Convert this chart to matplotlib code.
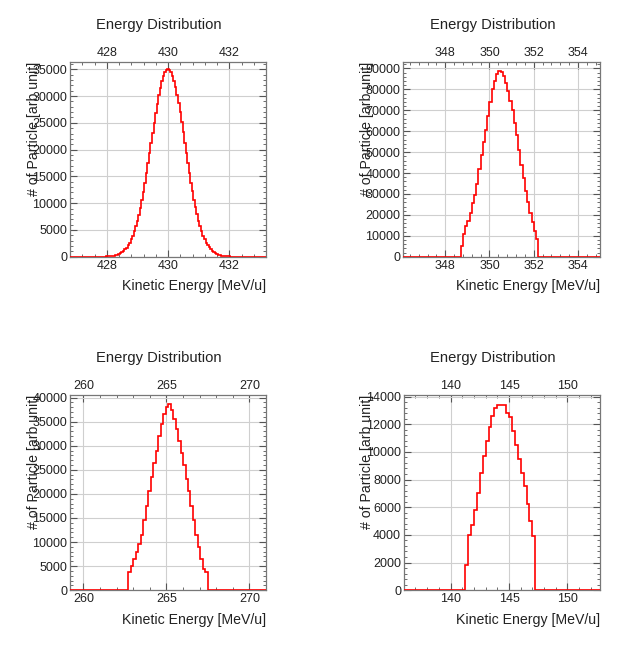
"""Four ROOT-style energy distribution histograms (2x2)."""

import matplotlib

matplotlib.use("Agg")
import matplotlib.pyplot as plt
from matplotlib.ticker import AutoMinorLocator, MultipleLocator

plt.rcParams["font.family"] = ["Liberation Sans", "DejaVu Sans"]

TITLE = "Energy Distribution"
XLABEL = "Kinetic Energy [MeV/u]"
YLABEL = "# of Particle [arb unit]"

# panel 1: 430 MeV/u beam
E1_START, E1_WIDTH = 427.975, 0.05
E1_COUNTS = [
    50, 65, 90, 120, 160, 220, 290, 390, 510, 660,
    850, 1080, 1370, 1720, 2140, 2650, 3240, 3930, 4740, 5660,
    6700, 7880, 9180, 10600, 12150, 13810, 15570, 17410, 19310, 21230,
    23150, 25040, 26870, 28580, 30160, 31560, 32760, 33720, 34430, 34860,
    35000,
    34850, 34400, 33700, 32750, 31600, 30200, 28650, 26950, 25100, 23200,
    21300, 19400, 17450, 15600, 13850, 12200, 10650, 9200, 7900, 6700,
    5650, 4750, 3950, 3250, 2650, 2150, 1730, 1380, 1090, 860,
    670, 510, 390, 290, 220, 160, 120, 90, 65, 50,
]
E1_XLIM = (426.8, 433.2)
E1_YLIM = (0, 36400)
E1_XMAJOR, E1_YMAJOR = 2, 5000

# panel 2: 350 MeV/u beam
E2_START, E2_WIDTH = 348.7, 0.1
E2_COUNTS = [
    5000, 11000, 14500, 17000, 21000, 25500, 29500, 35000, 42000, 48500,
    55000, 60500, 67500, 74000, 80000, 84000, 87500, 89000, 88500, 86500,
    83000, 79000, 74500, 70000, 64000, 58000, 51000, 44000, 37500, 31500,
    26000, 21000, 16500, 12500, 8500,
]
E2_XLIM = (346.1, 355.0)
E2_YLIM = (0, 93200)
E2_XMAJOR, E2_YMAJOR = 2, 10000

# panel 3: 265 MeV/u beam
E3_START, E3_WIDTH = 262.7, 0.15
E3_COUNTS = [
    3800, 5000, 6500, 8000, 9500, 11500, 14500, 17500, 20500, 23500,
    26500, 29000, 32000, 34500, 36500, 38000, 38700, 37500, 35500, 33500,
    31000, 28500, 26000, 23000, 20500, 17500, 14500, 11500, 9000, 6500,
    4500, 3800,
]
E3_XLIM = (259.2, 271.0)
E3_YLIM = (0, 40500)
E3_XMAJOR, E3_YMAJOR = 5, 5000

# panel 4: 145 MeV/u beam
E4_START, E4_WIDTH = 141.25, 0.25
E4_COUNTS = [
    1800, 4000, 4700, 5800, 7000, 8500, 9700, 10800, 11800, 12600,
    13200, 13400, 13400, 13400, 12800, 12500, 11500, 10500, 9500, 8500,
    7500, 6200, 5000, 3900,
]
E4_XLIM = (136.0, 152.8)
E4_YLIM = (0, 14100)
E4_XMAJOR, E4_YMAJOR = 5, 2000

PANELS = [
    (E1_START, E1_WIDTH, E1_COUNTS, E1_XLIM, E1_YLIM, E1_XMAJOR, E1_YMAJOR),
    (E2_START, E2_WIDTH, E2_COUNTS, E2_XLIM, E2_YLIM, E2_XMAJOR, E2_YMAJOR),
    (E3_START, E3_WIDTH, E3_COUNTS, E3_XLIM, E3_YLIM, E3_XMAJOR, E3_YMAJOR),
    (E4_START, E4_WIDTH, E4_COUNTS, E4_XLIM, E4_YLIM, E4_XMAJOR, E4_YMAJOR),
]

# axes rectangles in figure fractions (left, bottom, width, height)
AX_RECTS = [
    (0.109, 0.605, 0.304, 0.300),
    (0.626, 0.605, 0.306, 0.300),
    (0.109, 0.092, 0.304, 0.300),
    (0.627, 0.092, 0.305, 0.300),
]

TEXT_COLOR = "#222222"


def draw_panel(ax, start, width, counts, xlim, ylim, xmajor, ymajor):
    edges = [start + i * width for i in range(len(counts) + 1)]
    # pad with empty bins out to the frame, like a ROOT histogram
    edges = [xlim[0]] + edges + [xlim[1]]
    values = [0] + list(counts) + [0]
    ax.stairs(values, edges, color="red", lw=1.2, baseline=None, zorder=3)

    ax.set_xlim(*xlim)
    ax.set_ylim(*ylim)
    ax.xaxis.set_major_locator(MultipleLocator(xmajor))
    ax.yaxis.set_major_locator(MultipleLocator(ymajor))
    ax.xaxis.set_minor_locator(AutoMinorLocator(5))
    ax.yaxis.set_minor_locator(AutoMinorLocator(5))
    ax.grid(which="major", color="#cfcfcf", lw=0.8, zorder=0)

    ax.tick_params(which="both", direction="in", top=True, right=True,
                   labeltop=True, colors="#555555", labelcolor=TEXT_COLOR,
                   labelsize=9, pad=2)
    ax.tick_params(which="major", length=5)
    ax.tick_params(which="minor", length=2.5)
    for sp in ax.spines.values():
        sp.set_color("#777777")
        sp.set_linewidth(0.9)

    ax.set_xlabel(XLABEL, loc="right", fontsize=10.2, color=TEXT_COLOR)
    ax.xaxis.set_label_coords(1.0, -0.115)
    ax.set_ylabel(YLABEL, loc="top", fontsize=10.2, color=TEXT_COLOR)
    ax.yaxis.set_label_coords(-0.15, 1.0)
    ax.text(0.455, 1.19, TITLE, transform=ax.transAxes, ha="center",
            va="center", fontsize=10.6, color=TEXT_COLOR)


fig = plt.figure(figsize=(6.44, 6.5), dpi=100)
for rect, panel in zip(AX_RECTS, PANELS):
    ax = fig.add_axes(rect)
    draw_panel(ax, *panel)

fig.savefig("out.png", dpi=100, facecolor="white")
